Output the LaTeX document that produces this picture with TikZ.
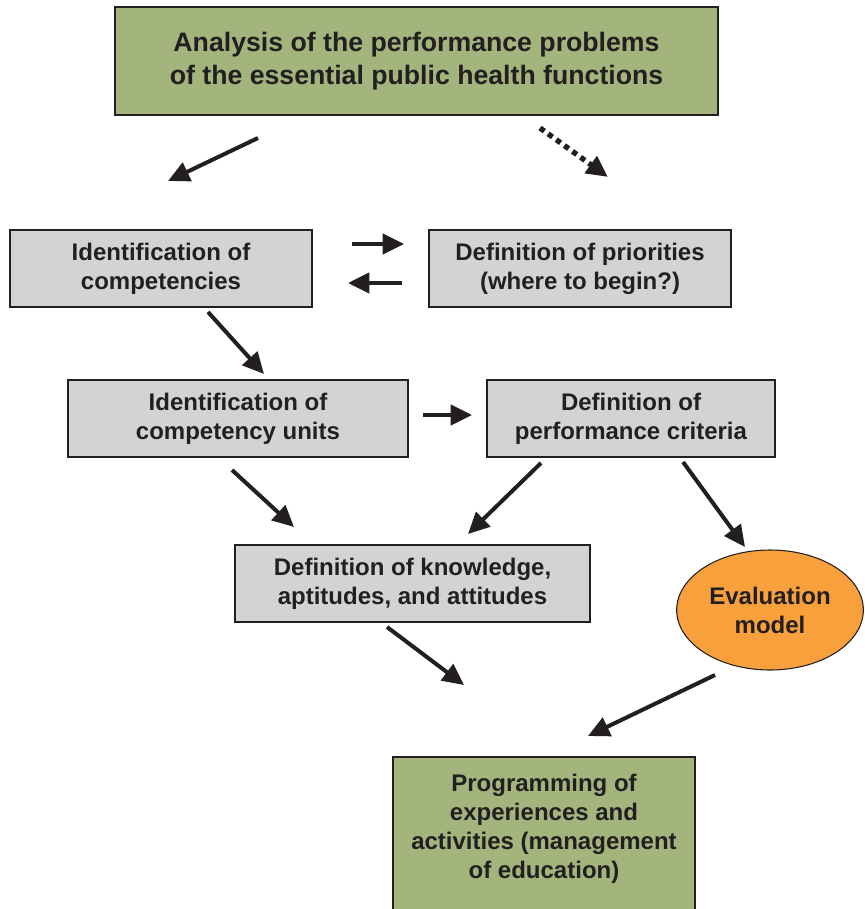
\documentclass[tikz,border=0pt]{standalone}
\usepackage{fontspec}
\setmainfont{Liberation Sans}
\usetikzlibrary{shapes.geometric,arrows.meta}
\definecolor{boxgreen}{HTML}{A3B47C}
\definecolor{boxgray}{HTML}{D3D3D5}
\definecolor{evalorange}{HTML}{F7A03C}
\definecolor{ink}{HTML}{231F20}
\tikzset{
  boxfont/.style={font=\fontsize{18}{21.75}\selectfont\bfseries},
  greenbox/.style={draw=ink, line width=1.6pt, fill=boxgreen, inner sep=0pt, align=center, text=ink, font=\fontsize{20}{24.75}\selectfont\bfseries},
  graybox/.style={draw=ink, line width=1pt, fill=boxgray, inner sep=0pt, align=center, text=ink, boxfont, minimum height=57.75pt},
  lowgreen/.style={draw=ink, line width=1.2pt, fill=boxgreen, inner sep=0pt, align=center, text=ink, boxfont},
  flow/.style={draw=ink, line width=3pt, -{Triangle[length=16pt,width=15pt]}},
  dotflow/.style={draw=ink, line width=4pt, dash pattern=on 4pt off 3.5pt, -{Triangle[length=16pt,width=15pt]}},
}
\begin{document}
\begin{tikzpicture}[x=0.75pt,y=-0.75pt]
\clip (0,0) rectangle (864,909);
\fill[white] (0,0) rectangle (864,909);
% boxes
\node[greenbox, minimum width=452.25pt, minimum height=81pt] (top) at (416.5,61) {Analysis of the performance problems\\of the essential public health functions};
\node[graybox, minimum width=226.5pt] (comp) at (161,268.5) {Identification of\\competencies};
\node[graybox, minimum width=226.5pt] (prio) at (580,268.5) {Definition of priorities\\(where to begin?)};
\node[graybox, minimum width=255pt] (units) at (238,418.5) {Identification of\\competency units};
\node[graybox, minimum width=216pt] (crit) at (631,418.5) {Definition of\\performance criteria};
\node[graybox, minimum width=266.25pt] (know) at (412.5,583.5) {Definition of knowledge,\\aptitudes, and attitudes};
\node[ellipse, draw=ink, line width=0.8pt, fill=evalorange, minimum width=140pt, minimum height=90pt, inner sep=0pt, align=center, text=ink, boxfont] (eval) at (770,610) {Evaluation\\model};
\node[lowgreen, minimum width=226.5pt, minimum height=129.75pt] (prog) at (544,843.5) {};
\node[text=ink, align=center, boxfont] (progtxt) at (544,829) {Programming of\\experiences and\\activities (management\\of education)};
% arrow end points
\coordinate (a1s) at (258,138); \coordinate (a1e) at (168,181);
\coordinate (a2s) at (540,128); \coordinate (a2e) at (608,177);
\coordinate (a3s) at (352,244); \coordinate (a3e) at (404,244);
\coordinate (a4s) at (402,283); \coordinate (a4e) at (348,283);
\coordinate (a5s) at (208,312); \coordinate (a5e) at (264,374);
\coordinate (a6s) at (423,415); \coordinate (a6e) at (472,415);
\coordinate (a7s) at (232,470); \coordinate (a7e) at (294,527);
\coordinate (a8s) at (541,463); \coordinate (a8e) at (468,534);
\coordinate (a9s) at (683,462); \coordinate (a9e) at (745,547);
\coordinate (a10s) at (387,627); \coordinate (a10e) at (464,685);
\coordinate (a11s) at (715,675); \coordinate (a11e) at (588,736);
% arrows
\draw[flow] (a1s) -- (a1e);
\draw[dotflow] (a2s) -- (a2e);
\draw[flow] (a3s) -- (a3e);
\draw[flow] (a4s) -- (a4e);
\draw[flow] (a5s) -- (a5e);
\draw[flow] (a6s) -- (a6e);
\draw[flow] (a7s) -- (a7e);
\draw[flow] (a8s) -- (a8e);
\draw[flow] (a9s) -- (a9e);
\draw[flow] (a10s) -- (a10e);
\draw[flow] (a11s) -- (a11e);
\end{tikzpicture}
\end{document}
